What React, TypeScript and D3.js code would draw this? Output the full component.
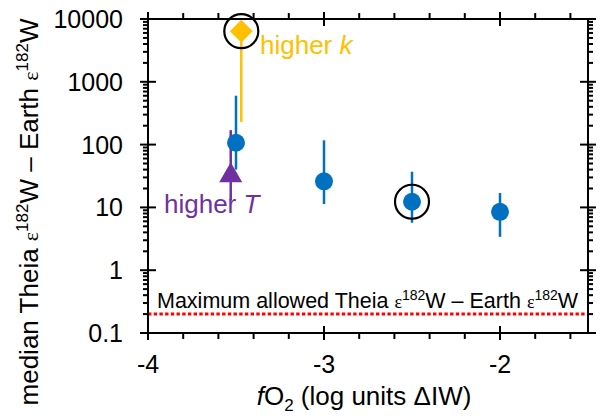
import React from "react";
import * as d3 from "d3";

// fO2 runs (log units ΔIW) and the median Theia–Earth ε182W difference
const baseFO2 = [-3.5, -3, -2.5, -2];
const baseMedian = [107, 26, 12.3, 8.5];
const baseLow = [40, 11.3, 5.7, 3.4];
const baseHigh = [600, 117, 37, 17];

const highKFO2 = [-3.47];
const highKMedian = [6400];
const highKLow = [230];

const highTFO2 = [-3.53];
const highTMedian = [32];
const highTLow = [13];
const highTHigh = [170];

const circledFO2 = [-3.47, -2.5];
const circledMedian = [6400, 12.3];

const maxAllowed = 0.2;

const xTicks = [-4, -3, -2];
const yTicks = [0.1, 1, 10, 100, 1000, 10000];

const BLUE = "#0070C0";
const GOLD = "#FFC000";
const PURPLE = "#7030A0";
const FONT = "'Liberation Sans', Arial, sans-serif";

const App = () => {
    const width = 601;
    const height = 416;
    const left = 148, right = 588, top = 19, bottom = 333;

    const x = d3.scaleLinear().domain([-4, -1.5]).range([left, right]);
    const y = d3.scaleLog().domain([0.1, 10000]).range([bottom, top]);

    const xMinor = d3.range(-4, -1.5 + 0.001, 0.2).filter(v => Math.abs(v - Math.round(v)) > 0.01);
    const yMinor: number[] = [];
    for (let e = -1; e < 4; e++) {
        for (let m = 2; m <= 9; m++) yMinor.push(m * Math.pow(10, e));
    }

    // square turned 45° gives the even diamond of the original
    const diamond = d3.symbol().type(d3.symbolSquare).size(262)();
    const triangle = d3.symbol().type(d3.symbolTriangle).size(230)();

    return (
        <svg width={width} height={height} style={{position: "absolute", left: 0, top: 0, background: "#fff"}}
             fontFamily={FONT}>
            {/* threshold line */}
            <line x1={left} x2={right} y1={y(maxAllowed)} y2={y(maxAllowed)} stroke="#FF0000"
                  strokeWidth={3} strokeDasharray="3.4 2.3"/>
            <text x={157} y={308} fontSize={21.5} fill="#000">
                Maximum allowed Theia <tspan fontFamily="'Liberation Serif', serif" fontSize={18}>ε</tspan>
                <tspan fontSize={14} dy={-8}>182</tspan><tspan dy={8}>W – Earth </tspan>
                <tspan fontFamily="'Liberation Serif', serif" fontSize={18}>ε</tspan>
                <tspan fontSize={14} dy={-8}>182</tspan><tspan dy={8}>W</tspan>
            </text>

            {/* axes box */}
            <g stroke="#000" strokeWidth={2}>
                <rect x={left} y={top} width={right - left} height={bottom - top} fill="none"/>
                {xTicks.map(v => (
                    <g key={v}>
                        <line x1={x(v)} x2={x(v)} y1={bottom - 7} y2={bottom + 7}/>
                        <line x1={x(v)} x2={x(v)} y1={top - 7} y2={top + 7}/>
                    </g>
                ))}
                {xMinor.map(v => (
                    <g key={v}>
                        <line x1={x(v)} x2={x(v)} y1={bottom} y2={bottom + 6}/>
                        <line x1={x(v)} x2={x(v)} y1={top} y2={top - 6}/>
                    </g>
                ))}
                {yTicks.map(v => (
                    <g key={v}>
                        <line x1={left - 8} x2={left + 8} y1={y(v)} y2={y(v)}/>
                        <line x1={right - 8} x2={right + 8} y1={y(v)} y2={y(v)}/>
                    </g>
                ))}
                {yMinor.map(v => (
                    <g key={v}>
                        <line x1={left - 5} x2={left} y1={y(v)} y2={y(v)}/>
                        <line x1={right} x2={right + 5} y1={y(v)} y2={y(v)}/>
                    </g>
                ))}
            </g>

            {/* tick labels */}
            {xTicks.map(v => (
                <text key={v} x={x(v)} y={373} fontSize={25} textAnchor="middle">{v}</text>
            ))}
            {yTicks.map(v => (
                <text key={v} x={123} y={y(v)} dy="0.36em" fontSize={25} textAnchor="end">{v}</text>
            ))}

            {/* axis titles */}
            <text x={364} y={405} fontSize={26} textAnchor="middle">
                <tspan fontStyle="italic">f</tspan>O<tspan fontSize={17} dy={6}>2</tspan>
                <tspan dy={-6}> (log units ΔIW)</tspan>
            </text>
            <text transform="translate(38,212) rotate(-90)" fontSize={26} textAnchor="middle">
                median Theia <tspan fontFamily="'Liberation Serif', serif" fontSize={22}>ε</tspan>
                <tspan fontSize={17} dy={-10}>182</tspan><tspan dy={10}>W – Earth </tspan>
                <tspan fontFamily="'Liberation Serif', serif" fontSize={22}>ε</tspan>
                <tspan fontSize={17} dy={-10}>182</tspan><tspan dy={10}>W</tspan>
            </text>

            {/* higher k */}
            {highKFO2.map((v, i) => (
                <g key={i}>
                    <line x1={x(v)} x2={x(v)} y1={y(highKLow[i])} y2={y(highKMedian[i])} stroke={GOLD} strokeWidth={2.5}/>
                    <path d={diamond} transform={`translate(${x(v)},${y(highKMedian[i])}) rotate(45)`} fill={GOLD}/>
                </g>
            ))}
            <text x={260} y={54} fontSize={26} fill={GOLD}>higher <tspan fontStyle="italic">k</tspan></text>

            {/* higher T */}
            {highTFO2.map((v, i) => (
                <g key={i}>
                    <line x1={x(v)} x2={x(v)} y1={y(highTLow[i])} y2={y(highTHigh[i])} stroke={PURPLE} strokeWidth={2.5}/>
                    <path d={triangle} transform={`translate(${x(v)},${y(highTMedian[i])})`} fill={PURPLE}/>
                </g>
            ))}
            <text x={164} y={213} fontSize={26} fill={PURPLE}>higher <tspan fontStyle="italic">T</tspan></text>

            {/* baseline runs */}
            {baseFO2.map((v, i) => (
                <g key={i}>
                    <line x1={x(v)} x2={x(v)} y1={y(baseLow[i])} y2={y(baseHigh[i])} stroke={BLUE} strokeWidth={2.5}/>
                    <circle cx={x(v)} cy={y(baseMedian[i])} r={9} fill={BLUE}/>
                </g>
            ))}

            {/* highlighted runs */}
            {circledFO2.map((v, i) => (
                <circle key={i} cx={x(v)} cy={y(circledMedian[i])} r={17} fill="none" stroke="#000" strokeWidth={2.2}/>
            ))}
        </svg>
    );
};

export default App;
